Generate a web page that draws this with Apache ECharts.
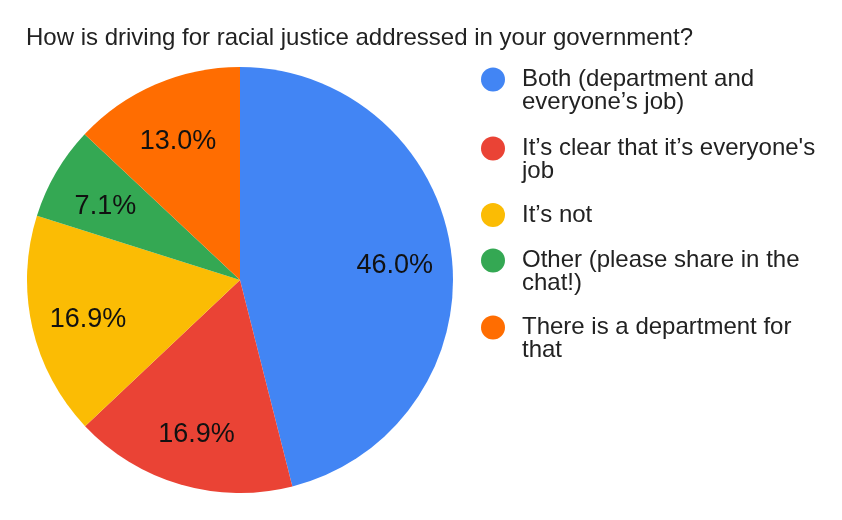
<!DOCTYPE html>
<html>
<head>
	<meta charset="utf-8">
	<title>echarts</title>
	<script type="text/javascript" src="https://cdn.jsdelivr.net/npm/echarts@6/dist/echarts.min.js"></script>
	<style>
		html, body { margin: 0; padding: 0; background: #fff; }
	</style>
</head>
<body>
	<div id="mychar" style="width: 842px;height:520px;"></div>

	<script type="text/javascript">
		// answers, in the order they go round the pie (clockwise from the top)
		var names = [
			'Both (department and\neveryone’s job)',
			'It’s clear that it’s everyone\'s\njob',
			'It’s not',
			'Other (please share in the\nchat!)',
			'There is a department for\nthat'
		];
		var shares = [46.0, 16.9, 16.9, 7.1, 13.0];
		var colors = ['#4285F4', '#EA4335', '#FBBC04', '#34A853', '#FF6D01'];

		// vertical centre of each legend dot
		var legendDotY = [79, 148, 215, 260, 327];

		var font = 'Liberation Sans, Arial, sans-serif';
		var lineH = 23;

		var pieData = names.map(function (n, i) {
			return { name: n, value: shares[i] };
		});

		// one legend per item so that the dot sits on the first text line
		var legends = names.map(function (n, i) {
			var twoLines = n.indexOf('\n') >= 0;
			return {
				orient: 'vertical',
				left: 481,
				top: twoLines ? legendDotY[i] - 1.5 * lineH : legendDotY[i] - 12,
				padding: 0,
				icon: 'circle',
				itemWidth: 24,
				itemHeight: 24,
				data: [n],
				formatter: function (name) {
					return name.indexOf('\n') >= 0 ? '\n' + name : name;
				},
				textStyle: {
					fontFamily: font,
					fontSize: 24,
					lineHeight: lineH,
					color: '#222',
					padding: [0, 0, 0, 12]
				}
			};
		});

		var mychar = echarts.init(document.getElementById('mychar'));
		var option = {
			color: colors,
			animation: false,
			title: {
				text: 'How is driving for racial justice addressed in your government?',
				left: 26,
				top: 26,
				padding: 0,
				textStyle: {
					fontFamily: font,
					fontSize: 24,
					fontWeight: 'normal',
					lineHeight: 24,
					color: '#222'
				}
			},
			legend: legends,
			series: [
				{
					name: 'answers',
					type: 'pie',
					center: [240, 280],
					radius: [0, 213],
					startAngle: 90,
					clockwise: true,
					itemStyle: { borderWidth: 0 },
					label: { show: false },
					labelLine: { show: false },
					emphasis: { disabled: true },
					data: pieData
				},
				{
					// see-through ring that only carries the percentage labels
					name: 'labels',
					type: 'pie',
					center: [240, 280],
					radius: [93, 213],
					startAngle: 90,
					clockwise: true,
					silent: true,
					itemStyle: { color: 'rgba(0,0,0,0)', borderWidth: 0 },
					label: {
						show: true,
						position: 'inside',
						fontFamily: font,
						fontSize: 27,
						color: '#111',
						formatter: function (p) {
							return p.value.toFixed(1) + '%';
						}
					},
					labelLayout: { dy: 5 },
					labelLine: { show: false },
					emphasis: { disabled: true },
					data: pieData
				}
			]
		};

		mychar.setOption(option);
	</script>
</body>
</html>
